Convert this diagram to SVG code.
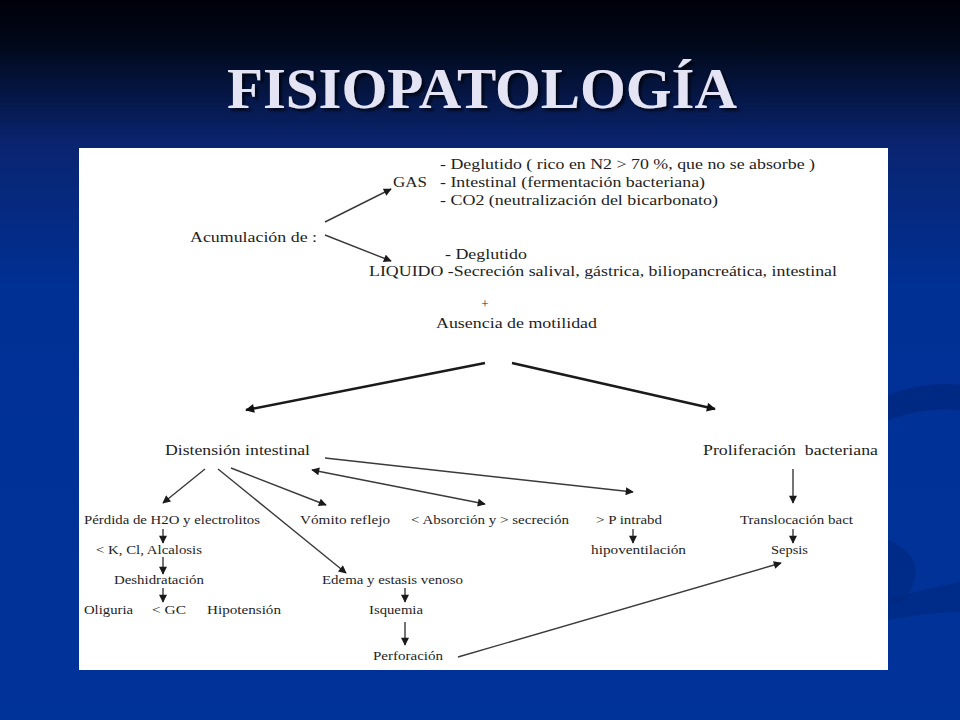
<svg xmlns="http://www.w3.org/2000/svg" width="960" height="720" viewBox="0 0 960 720">
<defs>
<linearGradient id="bg" x1="0" y1="0" x2="0" y2="1">
<stop offset="0" stop-color="#00000a"/>
<stop offset="0.06" stop-color="#000818"/>
<stop offset="0.2" stop-color="#0a2470"/>
<stop offset="0.4" stop-color="#003094"/>
<stop offset="1" stop-color="#00339a"/>
</linearGradient>
<filter id="sh" x="-5%" y="-20%" width="110%" height="140%">
<feDropShadow dx="3" dy="3" stdDeviation="1.2" flood-color="#000" flood-opacity="0.6"/>
</filter>
<marker id="ah" viewBox="0 0 10 10" refX="9" refY="5" markerWidth="9" markerHeight="8" markerUnits="userSpaceOnUse" orient="auto-start-reverse">
<path d="M0,0 L10,5 L0,10 z" fill="#1a1a1a"/>
</marker>
<marker id="ahb" viewBox="0 0 10 10" refX="9" refY="5" markerWidth="11" markerHeight="9" markerUnits="userSpaceOnUse" orient="auto-start-reverse">
<path d="M0,0 L10,5 L0,10 z" fill="#111"/>
</marker>
</defs>
<style>
text{font-family:'Liberation Serif','DejaVu Serif','Times New Roman',serif}
.t{fill:#1e1e1e}
.l{font-size:15px}
.m{font-size:14.5px}
.s{font-size:13px}
.c{stroke:#3a3a3a;stroke-width:1.4;fill:none;marker-end:url(#ah)}
.k{stroke:#1a1a1a;stroke-width:2.4;fill:none;marker-end:url(#ahb)}
.title{font-weight:bold;font-size:56px}
</style>
<rect x="0" y="0" width="960" height="720" fill="url(#bg)"/>
<path d="M888,395 C915,385 940,382 960,385 L960,410 C940,408 915,410 888,420 z" fill="#00257a" opacity="0.6"/>
<path d="M888,540 C915,552 925,570 905,600 L888,605 z" fill="#00257a" opacity="0.5"/>
<path d="M888,600 C920,590 945,585 960,582 L960,612 C940,612 915,615 888,620 z" fill="#00257a" opacity="0.5"/>
<g id="title">
<text class="title" x="482" y="108" text-anchor="middle" fill="#e4e4f4" filter="url(#sh)" textLength="510" lengthAdjust="spacingAndGlyphs">FISIOPATOLOGÍA</text>
</g>
<rect id="panel" x="79" y="148" width="809" height="522" fill="#ffffff"/>
<g id="connectors">
<line class="c" x1="325" y1="222" x2="391" y2="189"/>
<line class="c" x1="325" y1="235" x2="391" y2="261"/>
<line class="k" x1="485" y1="363" x2="246" y2="410"/>
<line class="k" x1="512" y1="363" x2="715" y2="409"/>
<line class="c" x1="205" y1="469" x2="163" y2="503"/>
<line class="c" x1="218" y1="469" x2="346" y2="573"/>
<line class="c" x1="231" y1="468" x2="326" y2="505"/>
<line class="c" x1="312" y1="470" x2="485" y2="504" style="marker-start:url(#ah)"/>
<line class="c" x1="325" y1="458" x2="633" y2="492"/>
<line class="c" x1="793" y1="469" x2="793" y2="503"/>
<line class="c" x1="163" y1="529" x2="163" y2="543"/>
<line class="c" x1="633" y1="529" x2="633" y2="543"/>
<line class="c" x1="793" y1="529" x2="793" y2="543"/>
<line class="c" x1="163" y1="557" x2="163" y2="574"/>
<line class="c" x1="163" y1="588" x2="163" y2="602"/>
<line class="c" x1="405" y1="588" x2="405" y2="602"/>
<line class="c" x1="405" y1="622" x2="405" y2="645"/>
<line class="c" x1="458" y1="657" x2="781" y2="563"/>
</g>
<g id="gas">
<text class="t l" x="393" y="187" textLength="34" lengthAdjust="spacingAndGlyphs">GAS</text>
<text class="t l" x="440" y="169" textLength="375" lengthAdjust="spacingAndGlyphs">- Deglutido ( rico en N2 &gt; 70 %, que no se absorbe )</text>
<text class="t l" x="440" y="187" textLength="265" lengthAdjust="spacingAndGlyphs">- Intestinal (fermentación bacteriana)</text>
<text class="t l" x="440" y="205" textLength="278" lengthAdjust="spacingAndGlyphs">- CO2 (neutralización del bicarbonato)</text>
</g>
<g id="acumulacion"><text class="t l" x="190" y="242" textLength="127" lengthAdjust="spacingAndGlyphs">Acumulación de :</text></g>
<g id="liquido">
<text class="t l" x="445" y="259" textLength="82" lengthAdjust="spacingAndGlyphs">- Deglutido</text>
<text class="t l" x="369" y="276" textLength="468" lengthAdjust="spacingAndGlyphs">LIQUIDO -Secreción salival, gástrica, biliopancreática, intestinal</text>
</g>
<g id="ausencia">
<text class="t s" x="485" y="308" text-anchor="middle">+</text>
<text class="t l" x="436" y="328" textLength="161" lengthAdjust="spacingAndGlyphs">Ausencia de motilidad</text>
</g>
<g id="distension"><text class="t m" x="165" y="455" textLength="145" lengthAdjust="spacingAndGlyphs">Distensión intestinal</text></g>
<g id="proliferacion"><text class="t m" x="703" y="455" textLength="175" lengthAdjust="spacingAndGlyphs">Proliferación&#160; bacteriana</text></g>
<g id="perdida"><text class="t s" x="84" y="524" textLength="176" lengthAdjust="spacingAndGlyphs">Pérdida de H2O y electrolitos</text></g>
<g id="vomito"><text class="t s" x="300" y="524" textLength="90" lengthAdjust="spacingAndGlyphs">Vómito reflejo</text></g>
<g id="absorcion"><text class="t s" x="411" y="524" textLength="158" lengthAdjust="spacingAndGlyphs">&lt; Absorción y &gt; secreción</text></g>
<g id="pintrabd"><text class="t s" x="596" y="524" textLength="66" lengthAdjust="spacingAndGlyphs">&gt; P intrabd</text></g>
<g id="translocacion"><text class="t s" x="740" y="524" textLength="113" lengthAdjust="spacingAndGlyphs">Translocación bact</text></g>
<g id="kcl"><text class="t s" x="96" y="554" textLength="106" lengthAdjust="spacingAndGlyphs">&lt; K, Cl, Alcalosis</text></g>
<g id="hipoventilacion"><text class="t s" x="591" y="554" textLength="95" lengthAdjust="spacingAndGlyphs">hipoventilación</text></g>
<g id="sepsis"><text class="t s" x="771" y="554" textLength="37" lengthAdjust="spacingAndGlyphs">Sepsis</text></g>
<g id="deshidratacion"><text class="t s" x="114" y="584" textLength="90" lengthAdjust="spacingAndGlyphs">Deshidratación</text></g>
<g id="edema"><text class="t s" x="322" y="584" textLength="141" lengthAdjust="spacingAndGlyphs">Edema y estasis venoso</text></g>
<g id="oliguria"><text class="t s" x="84" y="614" textLength="49" lengthAdjust="spacingAndGlyphs">Oliguria</text></g>
<g id="gc"><text class="t s" x="152" y="614" textLength="34" lengthAdjust="spacingAndGlyphs">&lt; GC</text></g>
<g id="hipotension"><text class="t s" x="207" y="614" textLength="74" lengthAdjust="spacingAndGlyphs">Hipotensión</text></g>
<g id="isquemia"><text class="t s" x="369" y="614" textLength="54" lengthAdjust="spacingAndGlyphs">Isquemia</text></g>
<g id="perforacion"><text class="t s" x="373" y="660" textLength="70" lengthAdjust="spacingAndGlyphs">Perforación</text></g>
</svg>
